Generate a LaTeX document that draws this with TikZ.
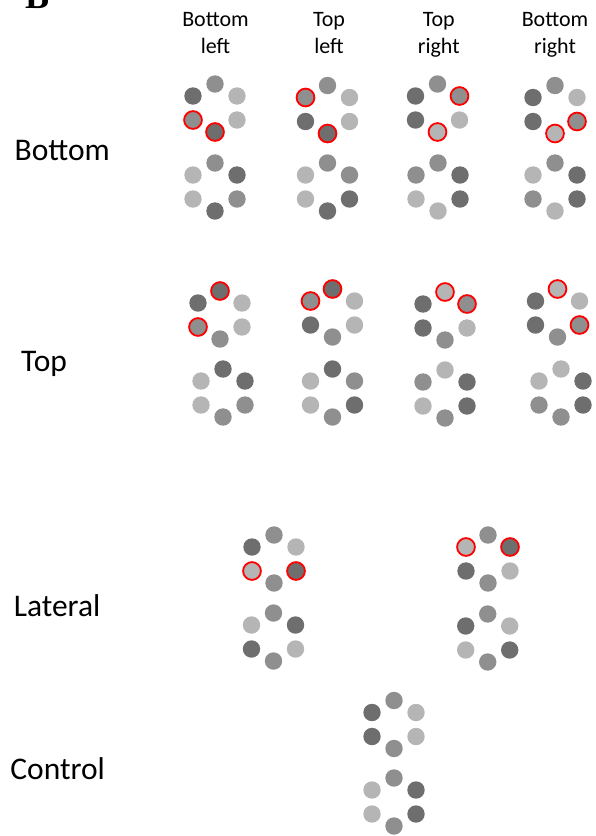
\documentclass[tikz,border=0pt]{standalone}
\usepackage{fontspec}
\setmainfont{Carlito}
\newfontfamily\panelfont{Liberation Serif}
\definecolor{dotdark}{gray}{0.43}
\definecolor{dotmid}{gray}{0.56}
\definecolor{dotlight}{gray}{0.71}
\tikzset{
  dot/.style={circle, inner sep=0pt, minimum size=17.4pt},
  dk/.style={dot, fill=dotdark},
  md/.style={dot, fill=dotmid},
  lt/.style={dot, fill=dotlight},
  cued/.style={draw=red, line width=1.8pt, minimum size=17.8pt},
  dkr/.style={dk, cued},
  mdr/.style={md, cued},
  ltr/.style={lt, cued},
  colhead/.style={font=\fontsize{22}{27.3}\selectfont, align=center, anchor=north, inner sep=0pt},
  rowhead/.style={font=\fontsize{31.5}{36}\selectfont, anchor=base west, inner sep=0pt},
}
% ring of six dots: name, centre, then top, upper left, upper right, lower left, lower right, bottom
\newcommand{\dotring}[8]{%
  \begin{scope}[shift={#2}]
    \node[#3] (#1-t)  at (0,-24)   {};
    \node[#4] (#1-ul) at (-22,-12) {};
    \node[#5] (#1-ur) at (22,-12)  {};
    \node[#6] (#1-ll) at (-22,12)  {};
    \node[#7] (#1-lr) at (22,12)   {};
    \node[#8] (#1-b)  at (0,24)    {};
  \end{scope}}
\begin{document}
\begin{tikzpicture}[x=1pt, y=-1pt]
\useasboundingbox (0,0) rectangle (595,836);

\node[font=\panelfont\bfseries\fontsize{36}{40}\selectfont, anchor=base west, inner sep=0pt] (panel) at (25,8.3) {B};

% column heads
\node[colhead] (h-bl) at (215.5,11.7) {Bottom\\left};
\node[colhead] (h-tl) at (329,11.7) {Top\\left};
\node[colhead] (h-tr) at (438.8,11.7) {Top\\right};
\node[colhead] (h-br) at (555,11.7) {Bottom\\right};

% row heads
\node[rowhead] (r-bottom)  at (14.5,160.7) {Bottom};
\node[rowhead] (r-top)     at (21,371)     {Top};
\node[rowhead] (r-lateral) at (13.6,616)   {Lateral};
\node[rowhead] (r-control) at (10.2,779.3) {Control};

% bottom row
\dotring{b1u}{(215,108)}{md}{dk}{lt}{mdr}{lt}{dkr}
\dotring{b1l}{(215,187)}{md}{lt}{dk}{lt}{md}{dk}
\dotring{b2u}{(327.5,109.5)}{md}{mdr}{lt}{dk}{lt}{dkr}
\dotring{b2l}{(327.5,187)}{md}{lt}{md}{lt}{dk}{dk}
\dotring{b3u}{(437.5,108)}{md}{dk}{mdr}{dk}{lt}{ltr}
\dotring{b3l}{(438,187)}{md}{md}{dk}{lt}{dk}{lt}
\dotring{b4u}{(555,109.5)}{md}{dk}{lt}{dk}{mdr}{ltr}
\dotring{b4l}{(555,187)}{md}{lt}{dk}{md}{dk}{lt}

% top row
\dotring{t1u}{(220,315)}{dkr}{dk}{lt}{mdr}{lt}{md}
\dotring{t1l}{(223,393)}{dk}{lt}{dk}{lt}{md}{md}
\dotring{t2u}{(332.5,313)}{dkr}{mdr}{lt}{dk}{lt}{md}
\dotring{t2l}{(332.5,393)}{dk}{lt}{md}{lt}{dk}{md}
\dotring{t3u}{(445,316)}{ltr}{dk}{mdr}{dk}{lt}{md}
\dotring{t3l}{(445,394)}{lt}{md}{dk}{lt}{dk}{md}
\dotring{t4u}{(557.5,313)}{ltr}{dk}{lt}{dk}{mdr}{md}
\dotring{t4l}{(561,393)}{lt}{lt}{dk}{md}{dk}{md}

% lateral row
\dotring{l1u}{(274,559)}{md}{dk}{lt}{ltr}{dkr}{md}
\dotring{l1l}{(273.5,637)}{md}{lt}{dk}{dk}{lt}{md}
\dotring{l2u}{(488,559)}{md}{ltr}{dkr}{dk}{lt}{md}
\dotring{l2l}{(487.7,638)}{md}{dk}{lt}{lt}{dk}{md}

% control
\dotring{c1u}{(394,724.5)}{md}{dk}{lt}{dk}{lt}{md}
\dotring{c1l}{(394,802)}{md}{lt}{dk}{lt}{dk}{md}
\end{tikzpicture}
\end{document}
